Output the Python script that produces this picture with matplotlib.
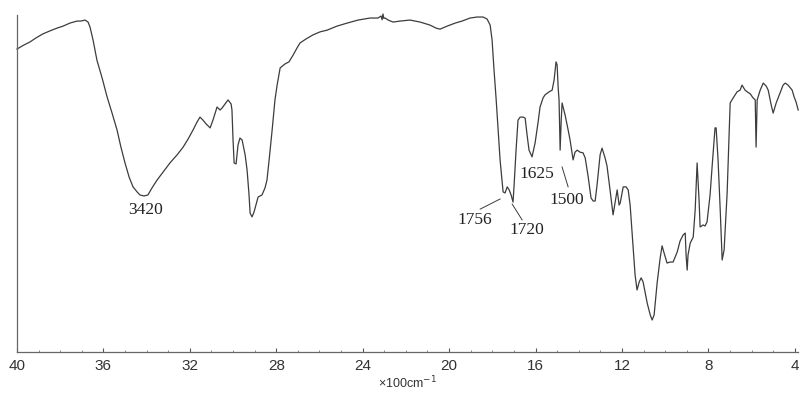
import matplotlib
matplotlib.use("Agg")
import matplotlib.pyplot as plt
from matplotlib.ticker import MultipleLocator

# IR spectrum: wavenumber in units of 100 cm^-1, transmittance in %
wavenumber = [
    40.00, 39.68, 39.40, 39.12, 38.80, 38.47, 38.15, 37.87, 37.55, 37.22,
    37.04, 36.85, 36.71, 36.62, 36.48, 36.30, 36.06, 35.83, 35.60, 35.37,
    35.19, 35.00, 34.81, 34.63, 34.44, 34.31, 34.12, 33.94, 33.75, 33.52,
    33.24, 32.92, 32.59, 32.31, 32.08, 31.85, 31.67, 31.53, 31.39, 31.25,
    31.06, 30.93, 30.74, 30.60, 30.51, 30.37, 30.23, 30.09, 30.05, 30.00,
    29.95, 29.86, 29.77, 29.68, 29.58, 29.44, 29.35, 29.26, 29.21, 29.12,
    29.03, 28.94, 28.84, 28.66, 28.52, 28.43, 28.33, 28.19, 28.06, 27.96,
    27.82, 27.59, 27.41, 27.22, 27.04, 26.90, 26.62, 26.30, 25.97, 25.65,
    25.19, 24.72, 24.21, 23.66, 23.29, 23.15, 23.10, 23.06, 23.02, 22.96,
    22.82, 22.59, 22.27, 21.81, 21.34, 20.88, 20.60, 20.42, 20.09, 19.72,
    19.40, 19.03, 18.70, 18.43, 18.24, 18.10, 18.01, 17.92, 17.82, 17.73,
    17.64, 17.55, 17.50, 17.41, 17.31, 17.22, 17.13, 17.04, 16.99, 16.90,
    16.81, 16.71, 16.57, 16.48, 16.39, 16.30, 16.16, 16.02, 15.88, 15.79,
    15.65, 15.56, 15.37, 15.23, 15.14, 15.05, 15.00, 14.95, 14.91, 14.86,
    14.81, 14.77, 14.63, 14.49, 14.40, 14.26, 14.17, 14.07, 13.94, 13.80,
    13.70, 13.56, 13.43, 13.33, 13.24, 13.15, 13.01, 12.92, 12.78, 12.69,
    12.55, 12.41, 12.31, 12.22, 12.13, 12.08, 11.94, 11.81, 11.71, 11.62,
    11.48, 11.39, 11.30, 11.20, 11.11, 11.02, 10.93, 10.83, 10.69, 10.60,
    10.51, 10.37, 10.23, 10.14, 10.05, 9.91, 9.77, 9.63, 9.44, 9.31,
    9.17, 9.07, 9.03, 8.98, 8.94, 8.84, 8.70, 8.61, 8.52, 8.43,
    8.38, 8.24, 8.15, 8.06, 7.92, 7.82, 7.69, 7.64, 7.55, 7.45,
    7.36, 7.27, 7.13, 6.99, 6.85, 6.67, 6.53, 6.44, 6.30, 6.20,
    6.06, 5.93, 5.83, 5.79, 5.74, 5.60, 5.46, 5.32, 5.23, 5.09,
    5.00, 4.86, 4.68, 4.54, 4.44, 4.31, 4.12, 4.03, 3.94, 3.84,
]
transmittance = [
    89.9, 91.1, 92.0, 93.2, 94.4, 95.3, 96.1, 96.7, 97.6, 98.2,
    98.2, 98.5, 97.9, 96.4, 92.6, 86.6, 81.3, 75.7, 70.9, 65.9,
    60.8, 56.1, 51.9, 49.0, 47.5, 46.6, 46.3, 46.6, 48.7, 51.0,
    53.4, 56.1, 58.5, 60.8, 63.2, 65.9, 68.2, 69.7, 68.8, 67.7,
    66.5, 68.8, 72.7, 71.8, 72.4, 73.6, 74.8, 73.6, 71.8, 62.9,
    56.1, 55.8, 61.4, 63.5, 62.9, 58.5, 54.0, 46.6, 41.2, 40.1,
    41.5, 43.6, 46.0, 46.6, 48.7, 51.0, 57.0, 65.9, 74.8, 79.2,
    84.3, 85.5, 86.1, 88.1, 90.2, 91.7, 92.9, 94.1, 95.0, 95.5,
    96.7, 97.6, 98.5, 99.1, 99.1, 99.7, 98.6, 100.3, 99.0, 99.1,
    98.5, 97.9, 98.2, 98.5, 97.9, 97.0, 96.1, 95.8, 96.7, 97.6,
    98.2, 99.1, 99.4, 99.4, 98.8, 97.0, 92.6, 83.7, 74.8, 65.9,
    57.0, 51.0, 47.5, 47.2, 49.0, 48.1, 46.6, 44.5, 49.6, 59.9,
    68.8, 69.7, 69.7, 69.4, 64.4, 59.9, 57.9, 62.0, 68.2, 72.7,
    75.4, 76.3, 77.2, 77.7, 80.7, 86.1, 85.2, 78.3, 74.8, 59.9,
    68.8, 73.9, 70.3, 65.9, 62.9, 57.0, 59.3, 59.9, 59.3, 59.1,
    57.6, 51.9, 45.7, 44.8, 44.8, 49.6, 58.5, 60.5, 57.6, 55.2,
    48.1, 40.7, 44.5, 48.1, 43.6, 44.2, 49.0, 49.0, 48.1, 43.6,
    31.2, 22.8, 18.4, 20.8, 22.0, 20.8, 17.8, 14.5, 11.0, 9.5,
    11.0, 20.5, 27.9, 31.5, 29.4, 26.4, 26.7, 26.7, 29.7, 32.9,
    34.7, 35.3, 28.8, 24.3, 28.8, 32.3, 34.1, 42.1, 56.1, 45.1,
    37.1, 37.7, 37.4, 38.6, 46.6, 55.5, 66.5, 66.5, 57.0, 42.1,
    27.3, 30.3, 47.2, 73.9, 75.4, 77.2, 77.7, 79.2, 77.7, 77.2,
    76.6, 75.4, 74.8, 60.8, 74.8, 77.7, 79.8, 78.9, 77.7, 73.3,
    70.9, 73.9, 76.9, 79.2, 79.8, 79.2, 77.7, 75.7, 74.2, 71.8,
]

# Band labels: text, text position, optional leader line (start, end)
band_labels = ["3420", "1756", "1720", "1625", "1500"]
label_pos = [(34.05, 42.0), (18.80, 39.2), (16.39, 36.2), (15.93, 52.8), (14.54, 45.1)]
leaders = [None,
           ((18.56, 42.4), (17.64, 45.4)),
           ((17.08, 43.9), (16.62, 39.2)),
           None,
           ((14.77, 54.9), (14.49, 49.0))]

x_ticks = [40, 36, 32, 28, 24, 20, 16, 12, 8, 4]
x_label = "×100cm$^{-1}$"

fig = plt.figure(figsize=(8.03, 3.97), dpi=100)
ax = fig.add_axes([17 / 803, 45 / 397, 781 / 803, 337 / 397])

line_color = "#3c3c3c"
ax.plot(wavenumber, transmittance, color=line_color, lw=0.9, clip_on=False)

ax.set_xlim(40, 3.85)
ax.set_ylim(0, 100)

for txt, (tx, ty), ld in zip(band_labels, label_pos, leaders):
    ax.text(tx, ty, txt, ha="center", va="center", fontsize=12.5,
            family="Liberation Serif", color="#222222")
    if ld is not None:
        (x0, y0), (x1, y1) = ld
        ax.plot([x0, x1], [y0, y1], color=line_color, lw=0.7)

ax.set_xticks(x_ticks)
ax.set_xticklabels([str(t) for t in x_ticks], family="Liberation Sans",
                   fontsize=11, color="#333333")
ax.xaxis.set_minor_locator(MultipleLocator(1))
ax.tick_params(axis="x", which="major", direction="in", length=3, width=0.8,
               color="#555555", pad=5)
ax.tick_params(axis="x", which="minor", direction="in", length=1.5, width=0.6,
               color="#777777")
ax.set_yticks([])
ax.set_xlabel(x_label, family="Liberation Sans", fontsize=9, color="#333333",
              labelpad=1)

for side in ("top", "right"):
    ax.spines[side].set_visible(False)
for side in ("left", "bottom"):
    ax.spines[side].set_color("#666666")
    ax.spines[side].set_linewidth(0.9)

fig.savefig("out.png", dpi=100)
